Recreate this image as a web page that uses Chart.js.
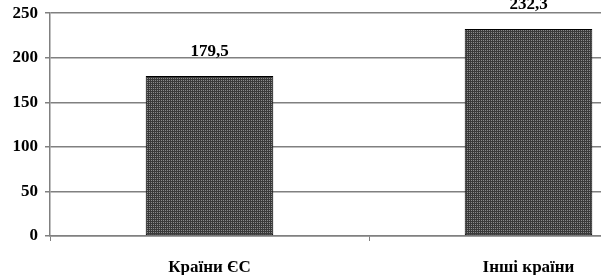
<!DOCTYPE html>
<html>
<head>
<meta charset="utf-8">
<script src="https://cdn.jsdelivr.net/npm/chart.js@4"></script>
<style>
  html, body { margin: 0; padding: 0; background: #fff; overflow: hidden; }
  #wrap { position: relative; width: 601px; height: 275px; overflow: hidden; }
  #box { position: absolute; left: 0; top: -4px; width: 690px; height: 279px; }
</style>
</head>
<body>
<div id="wrap"><div id="box"><canvas id="chart"></canvas></div></div>
<script>
// chart data
const categories = ['Країни ЄС', 'Інші країни'];
const values = [179.5, 232.3];
const valueLabels = ['179,5', '232,3'];
const yTicks = [0, 50, 100, 150, 200, 250];

const FONT = '"Liberation Serif", "Times New Roman", serif';

// dotted grey fill like the original print
const makePattern = () => {
    const c = document.createElement('canvas');
    c.width = 2; c.height = 2;
    const g = c.getContext('2d');
    g.fillStyle = '#8c8c8c';
    g.fillRect(0, 0, 2, 2);
    g.fillStyle = '#3a3a3a';
    g.fillRect(0, 0, 1, 2);
    g.fillRect(1, 1, 1, 1);
    return g.createPattern(c, 'repeat');
};

// draws the value above each bar
const valueLabelPlugin = {
    id: 'valueLabels',
    afterDatasetsDraw(chart) {
        const ctx = chart.ctx;
        const meta = chart.getDatasetMeta(0);
        ctx.save();
        ctx.font = 'bold 17px ' + FONT;
        ctx.fillStyle = '#000';
        ctx.textAlign = 'center';
        ctx.textBaseline = 'bottom';
        meta.data.forEach((bar, i) => {
            ctx.fillText(valueLabels[i], bar.x, bar.y - 16);
        });
        ctx.restore();
    }
};

new Chart(document.getElementById('chart'), {
    type: 'bar',
    data: {
        labels: categories,
        datasets: [{
            data: values,
            backgroundColor: makePattern(),
            borderColor: '#000',
            borderWidth: 1,
            borderSkipped: false,
            categoryPercentage: 1,
            barPercentage: 0.4
        }]
    },
    options: {
        responsive: true,
        maintainAspectRatio: false,
        animation: false,
        layout: { padding: { top: 10, right: 2, left: 0, bottom: 0 } },
        plugins: {
            legend: { display: false },
            tooltip: { enabled: false }
        },
        scales: {
            x: {
                offset: true,
                grid: {
                    offset: true,
                    drawOnChartArea: false,
                    tickLength: 5,
                    color: '#808080'
                },
                border: { color: '#808080', width: 1.5 },
                ticks: {
                    padding: 16,
                    color: '#000',
                    font: { family: FONT, size: 17, weight: 'bold' }
                },
                afterFit: (scale) => { scale.height = 39; }
            },
            y: {
                min: 0,
                max: 250,
                afterBuildTicks: (scale) => { scale.ticks = yTicks.map(v => ({ value: v })); },
                grid: {
                    color: '#808080',
                    lineWidth: 1.5,
                    tickLength: 5
                },
                border: { color: '#808080', width: 1.5 },
                ticks: {
                    padding: 7,
                    color: '#000',
                    font: { family: FONT, size: 17, weight: 'bold' }
                },
                afterFit: (scale) => { scale.width = 50; }
            }
        }
    },
    plugins: [valueLabelPlugin]
});
</script>
</body>
</html>
